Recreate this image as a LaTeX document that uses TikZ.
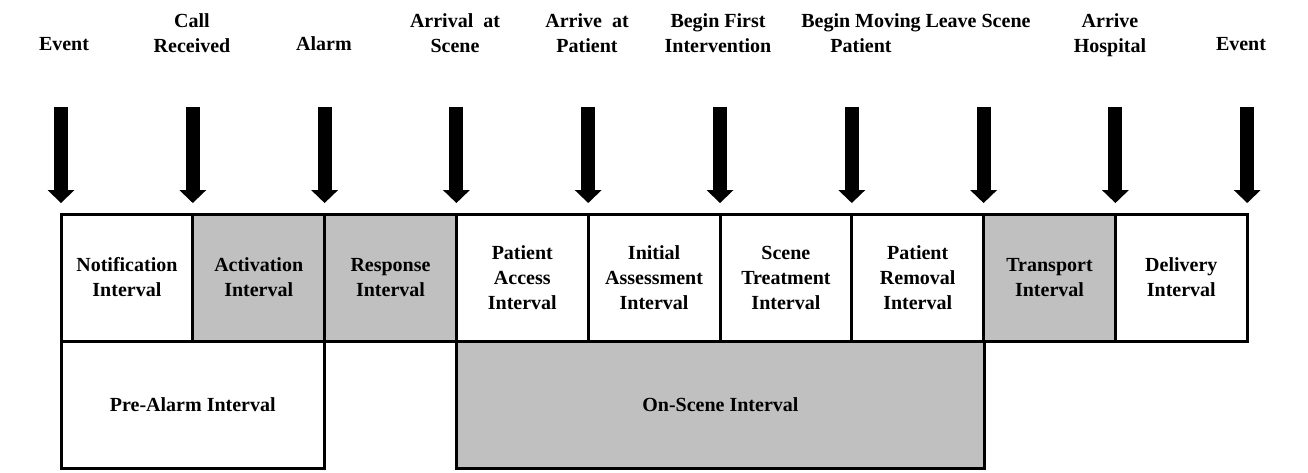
\documentclass[tikz,border=0pt]{standalone}
\usepackage{fontspec}
\setmainfont{Liberation Serif}
\usetikzlibrary{arrows.meta}
\definecolor{boxgray}{HTML}{C0C0C0}
\begin{document}
\begin{tikzpicture}[x=1pt,y=-1pt,
  txt/.style={font=\fontsize{20}{25}\selectfont\bfseries},
  cell/.style={txt, draw=black, line width=3pt, minimum width=131.8pt, minimum height=127pt, inner sep=0pt, outer sep=0pt, align=center},
  graycell/.style={cell, fill=boxgray},
  lbl/.style={txt, align=center, inner sep=0pt},
  marker/.style={line width=14pt, -{Triangle[width=27pt,length=13pt,line width=0pt]}}]
\useasboundingbox (0,0) rectangle (1308,472);
% top row
\node[cell]     (notif) at (126.9,277.5) {Notification\\Interval};
\node[graycell] (activ) at (258.7,277.5) {Activation\\Interval};
\node[graycell] (resp)  at (390.5,277.5) {Response\\Interval};
\node[cell]     (pacc)  at (522.3,277.5) {Patient\\Access\\Interval};
\node[cell]     (iass)  at (654.1,277.5) {Initial\\Assessment\\Interval};
\node[cell]     (streat) at (785.9,277.5) {Scene\\Treatment\\Interval};
\node[cell]     (prem)  at (917.7,277.5) {Patient\\Removal\\Interval};
\node[graycell] (trans) at (1049.5,277.5) {Transport\\Interval};
\node[cell]     (deliv) at (1181.3,277.5) {Delivery\\Interval};
% bottom row
\node[cell, minimum width=263.6pt] (prealarm) at (192.8,404.5) {Pre-Alarm Interval};
\node[graycell, minimum width=527.2pt] (onscene) at (720.4,404.5) {On-Scene Interval};
% arrows
\foreach \i in {0,...,9}{
  \pgfmathsetmacro{\xx}{61+131.8*\i}
  \coordinate (s\i) at (\xx,107);
  \coordinate (e\i) at (\xx,203);
  \draw[marker] (s\i) -- (e\i);
}
% labels
\node[lbl] (l0) at (64,44) {Event};
\node[lbl] (l1) at (192,33) {Call\\Received};
\node[lbl] (l2) at (324,44) {Alarm};
\node[lbl] (l3) at (455,33) {Arrival~ at\\Scene};
\node[lbl] (l4) at (587,33) {Arrive~ at\\Patient};
\node[lbl] (l5) at (718,33) {Begin First\\Intervention};
\node[lbl] (l6) at (861,33) {Begin Moving\\Patient};
\node[lbl] (l7) at (978,21) {Leave Scene};
\node[lbl] (l8) at (1110,35) {Arrive\\Hospital};
\node[lbl] (l9) at (1241,44) {Event};
\end{tikzpicture}
\end{document}
